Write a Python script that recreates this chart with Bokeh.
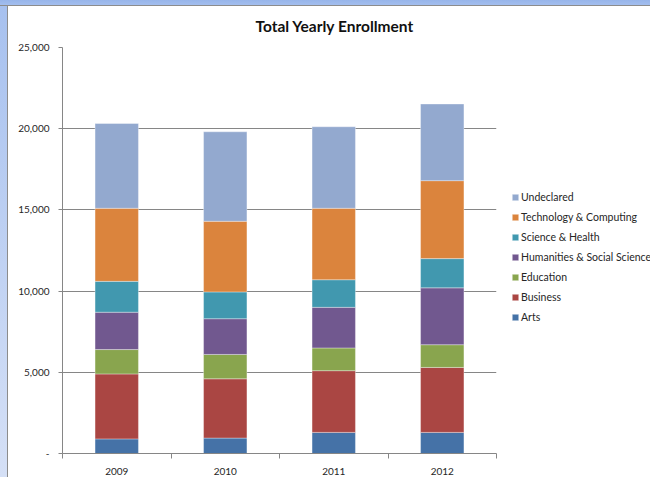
import numpy as np
from bokeh.plotting import figure
from bokeh.models import (Range1d, FixedTicker, Legend, LegendItem, Title, Spacer,
                          NumeralTickFormatter, ColumnDataSource)
from bokeh.layouts import column, row
from bokeh.embed import file_html
from bokeh.resources import INLINE

title_text = "Total Yearly Enrollment"
years = ["2009", "2010", "2011", "2012"]
programs = ["Arts", "Business", "Education", "Humanities & Social Science",
            "Science & Health", "Technology & Computing", "Undeclared"]
arts = [900, 950, 1300, 1300]
business = [4000, 3650, 3800, 4000]
education = [1500, 1500, 1400, 1400]
humanities = [2300, 2200, 2500, 3500]
science = [1900, 1650, 1700, 1800]
technology = [4500, 4350, 4400, 4800]
undeclared = [5220, 5510, 5020, 4720]
colors = ["#4572A7", "#AA4643", "#89A54E", "#71588F", "#4198AF", "#DB843D", "#93A9CF"]
y_ticks = [0, 5000, 10000, 15000, 20000, 25000]

keys = ["arts", "business", "education", "humanities", "science", "technology", "undeclared"]
x_pos = [i + 0.5 for i in range(len(years))]
src = ColumnDataSource(dict(x=x_pos, arts=arts, business=business, education=education,
                            humanities=humanities, science=science, technology=technology,
                            undeclared=undeclared))

FONT = "Lato"
TXT = "#262626"
AX = "#868686"

p = figure(frame_width=434, frame_height=406,
           min_border_left=54, min_border_right=154, min_border_top=41, min_border_bottom=24,
           x_range=Range1d(0, len(years)), y_range=Range1d(0, y_ticks[-1]),
           output_backend="svg", toolbar_location=None, title=None,
           background_fill_color="white", border_fill_color="white")
p.outline_line_color = None

rs = p.vbar_stack(keys, x="x", width=0.4, color=colors, source=src,
                  line_color="white", line_alpha=0.35, line_width=1)

items = [LegendItem(label=name, renderers=[r]) for name, r in zip(programs, rs)][::-1]
legend = Legend(items=items, location=(15, 126), padding=0, margin=0, spacing=0,
                label_height=20, glyph_height=8, glyph_width=8, label_standoff=2,
                border_line_color=None, background_fill_alpha=0,
                label_text_font=FONT, label_text_font_size="10.5px", label_text_color=TXT)
p.add_layout(legend, "right")

title = Title(text=title_text, align="left", offset=193, vertical_align="top", standoff=21,
              text_font=FONT, text_font_style="bold", text_font_size="15.5px", text_color="#111111")
p.add_layout(title, "above")

yt = FixedTicker(ticks=y_ticks)
p.yaxis.ticker = yt
p.ygrid.ticker = yt
p.yaxis.formatter = NumeralTickFormatter(format="0,0")
p.yaxis.major_label_overrides = {0: "-"}
p.yaxis.major_tick_out = 4
p.yaxis.major_tick_in = 0
p.yaxis.minor_tick_out = 0
p.yaxis.minor_tick_in = 0
p.yaxis.major_label_standoff = 9

xt = FixedTicker(ticks=x_pos, minor_ticks=list(range(len(years) + 1)))
p.xaxis.ticker = xt
p.xaxis.major_label_overrides = {x: y for x, y in zip(x_pos, years)}
p.xaxis.major_tick_out = 0
p.xaxis.major_tick_in = 0
p.xaxis.minor_tick_out = 5
p.xaxis.minor_tick_in = 0
p.xaxis.major_label_standoff = 9
p.xgrid.visible = False

for ax in (p.xaxis, p.yaxis):
    ax.axis_line_color = AX
    ax.major_tick_line_color = AX
    ax.minor_tick_line_color = AX
    ax.major_label_text_font = FONT
    ax.major_label_text_font_size = "10px"
    ax.major_label_text_color = TXT

p.ygrid.grid_line_color = AX
p.ygrid.grid_line_width = 1

top_strip = Spacer(width=650, height=6, styles={
    "background": "linear-gradient(#97B5EA, #A3BEEE)",
    "border-bottom": "1px solid #8C8C8C", "box-sizing": "border-box"})
left_strip = Spacer(width=8, height=471, styles={
    "background": "linear-gradient(#A7C1EF, #D5E0F6)",
    "border-right": "1px solid #8C8C8C", "box-sizing": "border-box"})
page = column(top_strip, row(left_strip, p, spacing=0), spacing=0)

open("out.html", "w").write(file_html(page, INLINE))
